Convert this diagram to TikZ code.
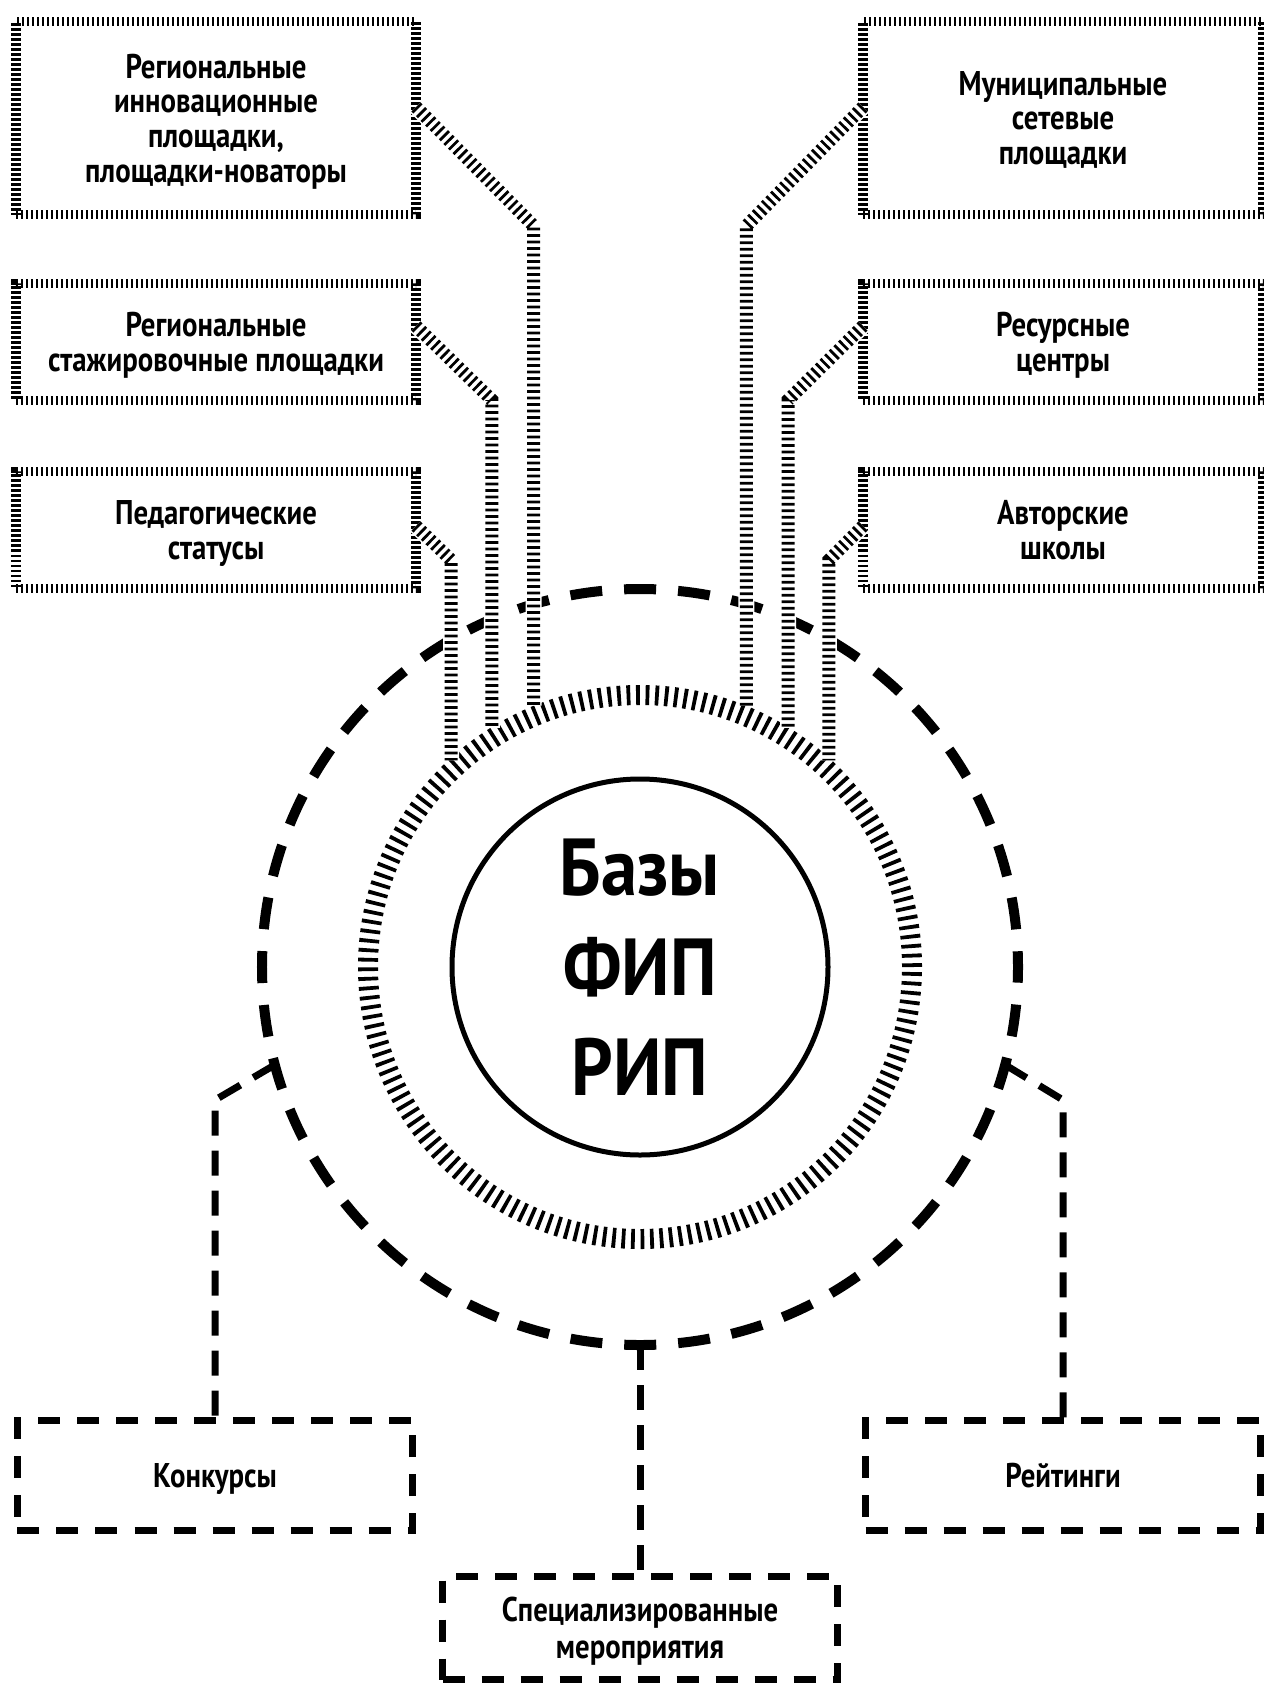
\documentclass[tikz,border=0pt]{standalone}
\usepackage{fontspec}
\setmainfont{PT Sans}[FakeStretch=0.84]
\newfontfamily\corefont{PT Sans}[FakeStretch=0.9]
\begin{document}
\begin{tikzpicture}[x=0.2mm, y=-0.2mm,
    railbox/.style={draw, line width=1.9mm, dash pattern=on 0.45mm off 0.55mm, outer sep=0,
        minimum width=80mm, align=center, text depth=0pt, font=\fontsize{19.5}{19.7}\selectfont\bfseries},
    rail/.style={preaction={draw=white, solid, line width=3.2mm}, line width=2.6mm,
        dash pattern=on 0.55mm off 0.75mm, shorten >=2.2mm},
    dashbox/.style={draw, line width=1.4mm, dash pattern=on 4.4mm off 3.4mm, outer sep=0,
        minimum width=79mm, align=center, text depth=0pt, font=\fontsize{19.5}{21}\selectfont\bfseries},
    dashline/.style={line width=1.4mm, dash pattern=on 5mm off 3mm}]
    \useasboundingbox (0,0) rectangle (1263,1685);

    % центр: три круга
    \node[circle, draw, minimum size=151.2mm, outer sep=0, line width=2mm,
        dash pattern=on 6.4mm off 4.4mm, dash phase=3.25mm] (outer) at (640,967) {};
    \node[circle, draw, minimum size=108.8mm, outer sep=0, line width=4mm,
        dash pattern=on 0.75mm off 1.15mm] (ring) at (640,967) {};
    \node[circle, draw, minimum size=75.2mm, line width=1mm, align=center,
        font=\corefont\fontsize{46}{57}\selectfont\bfseries] (core) at (640,967) {Базы\\ФИП\\РИП};

    % площадки слева
    \node[railbox, minimum height=38.6mm] (l1) at (216,118) {Региональные\\инновационные\\площадки,\\площадки-новаторы};
    \node[railbox, minimum height=23.4mm] (l2) at (216,342) {Региональные\\стажировочные площадки};
    \node[railbox, minimum height=23.4mm] (l3) at (216,530) {Педагогические\\статусы};

    % площадки справа
    \node[railbox, minimum height=38.6mm] (r1) at (1063,118) {Муниципальные\\сетевые\\площадки};
    \node[railbox, minimum height=23.4mm] (r2) at (1063,342) {Ресурсные\\центры};
    \node[railbox, minimum height=23.4mm] (r3) at (1063,530) {Авторские\\школы};

    % мероприятия внизу
    \node[dashbox, minimum height=22mm] (konk) at (215,1475) {Конкурсы};
    \node[dashbox, minimum height=22mm] (rejt) at (1063,1475) {Рейтинги};
    \node[dashbox, minimum height=20.6mm] (spec) at (640,1628) {Специализированные\\мероприятия};

    % связи сверху
    \draw[rail] (l1.east |- 0,107) -- (ring.113 |- 0,226) -- (ring.113);
    \draw[rail] (l2.east |- 0,326) -- (ring.123 |- 0,400) -- (ring.123);
    \draw[rail] (l3.east |- 0,526) -- (ring.134 |- 0,560) -- (ring.134);
    \draw[rail] (r1.west |- 0,107) -- (ring.67 |- 0,226) -- (ring.67);
    \draw[rail] (r2.west |- 0,326) -- (ring.57 |- 0,400) -- (ring.57);
    \draw[rail] (r3.west |- 0,526) -- (ring.46 |- 0,560) -- (ring.46);

    % связи снизу
    \draw[dashline] (outer.195) -- (konk.north |- 0,1100) -- (konk.north);
    \draw[dashline] (outer.345) -- (rejt.north |- 0,1100) -- (rejt.north);
    \draw[dashline] (outer.south) -- (spec.north);
\end{tikzpicture}
\end{document}
